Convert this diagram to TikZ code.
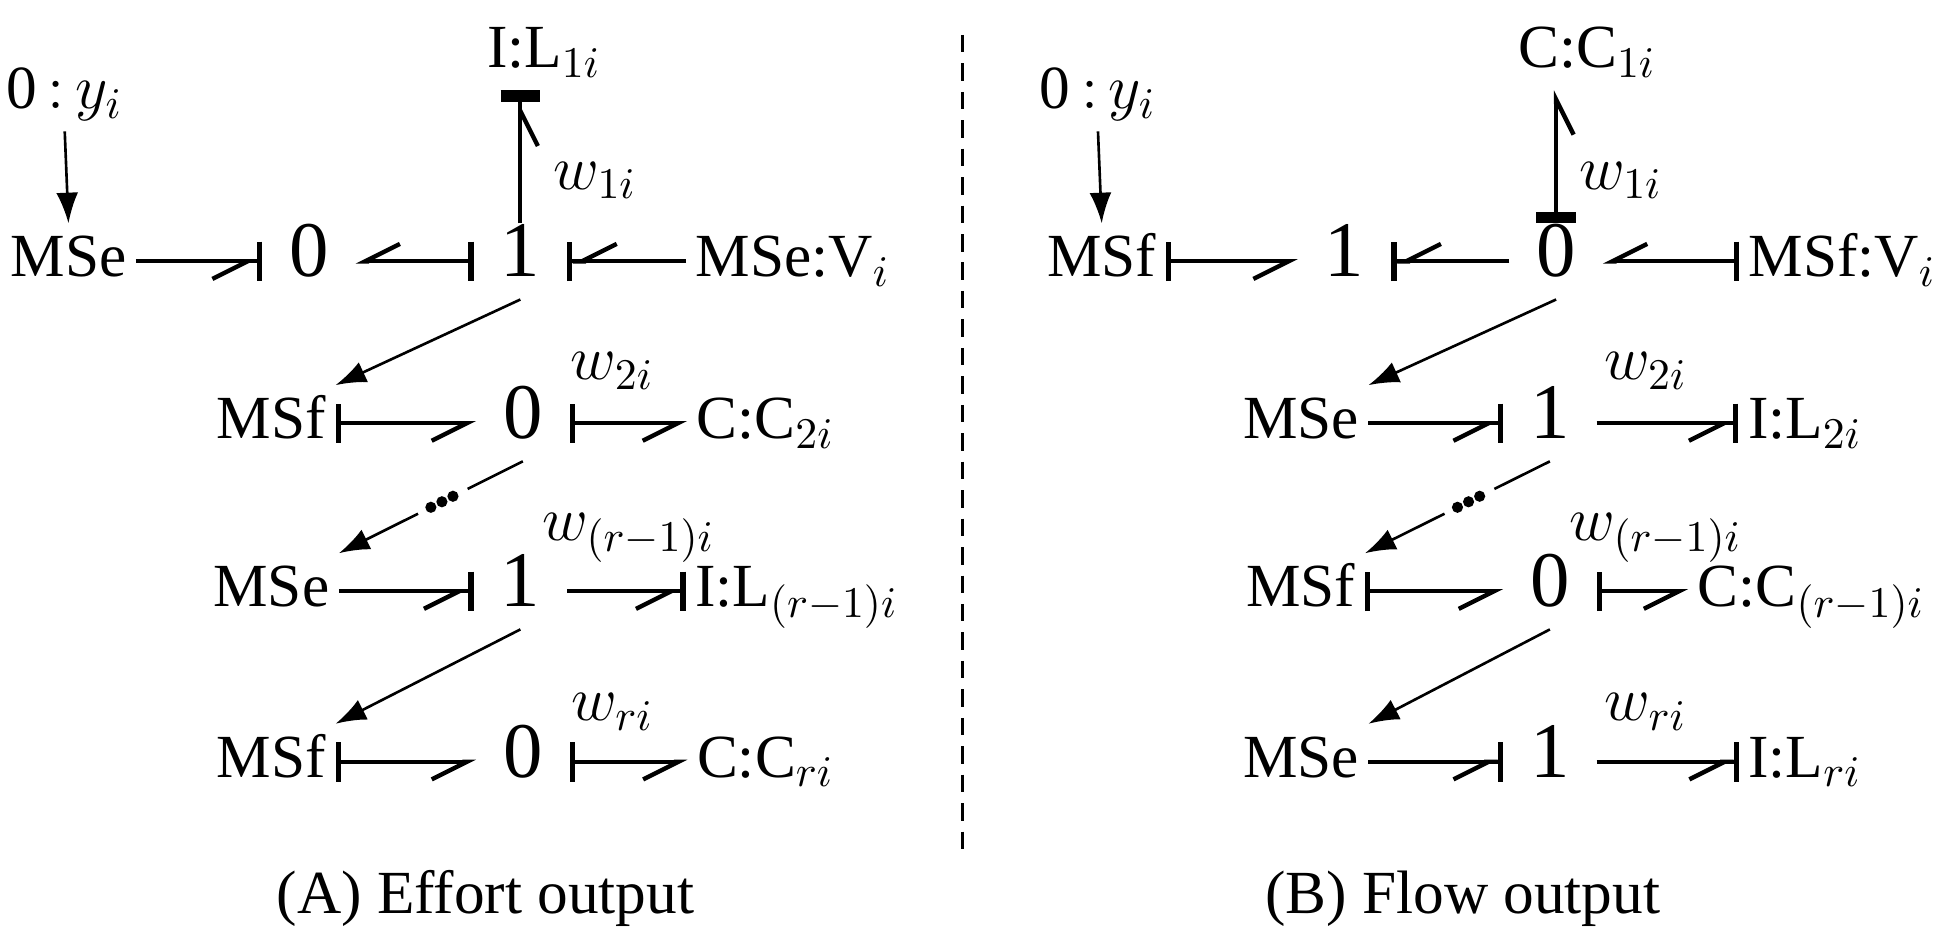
\documentclass[tikz,border=0pt]{standalone}
\usepackage{fontspec}
\setmainfont{Liberation Serif}
\usetikzlibrary{arrows.meta,calc}
\tikzset{
  hp/.tip={Straight Barb[right,length=8pt,width=8pt,line width=1pt]},
  cs/.tip={Bar[width=9pt,line width=1.2pt]},
  cst/.tip={Bar[width=9pt,line width=2.6pt]},
  el/.style={inner xsep=2pt,inner ysep=2pt,text height=10pt,text depth=3pt},
  jn/.style={inner xsep=6pt,inner ysep=2pt,text height=10pt,text depth=3pt,
    font=\fontsize{18}{20}\selectfont},
  bond/.style={line width=0.9pt},
  act/.style={line width=0.6pt,-{Latex[length=7pt,width=5pt]}},
}
\begin{document}
\begin{tikzpicture}[x=0.01cm,y=-0.01cm,font=\fontsize{14}{17}\selectfont]
\useasboundingbox (0,0) rectangle (1568,758);
% (A) effort output
\node[el] (ly) at (52,75) {0$\,{:}\,y_i$};
\node[el] (IL1) at (437,42) {I:L$_{1i}$};
\node[el] (MSe1) at (55,210) {MSe};
\node[jn] (Z1) at (248,210) {0};
\node[jn] (O1) at (418,210) {1};
\node[el] (MSeV) at (637,210) {MSe:V$_i$};
\node (w1) at (478,145) {$w_{1i}$};
\node[el] (MSf2) at (218,340) {MSf};
\node[jn] (Z2) at (420,340) {0};
\node[el] (CC2) at (615,340) {C:C$_{2i}$};
\node (w2) at (492,298) {$w_{2i}$};
\node[el] (MSe3) at (218,475) {MSe};
\node[jn] (O3) at (418,475) {1};
\node[el] (IL3) at (640,475) {I:L$_{(r-1)i}$};
\node (w3) at (505,432) {$w_{(r-1)i}$};
\node[el] (MSf4) at (218,612) {MSf};
\node[jn] (Z4) at (420,612) {0};
\node[el] (CC4) at (615,612) {C:C$_{ri}$};
\node (w4) at (492,572) {$w_{ri}$};
\draw[act] (ly.south) -- (MSe1.north);
\draw[bond,-{hp[]cs[]}] (MSe1) -- (Z1);
\draw[bond,{cs[]}-{hp[]}] (O1) -- (Z1);
\draw[bond,-{hp[]cs[]}] (MSeV) -- (O1);
\draw[bond,-{hp[]cst[]}] (O1.north) -- (O1.north |- IL1.south);
\draw[act] (O1.south) -- (MSf2.north east);
\draw[bond,{cs[]}-{hp[]}] (MSf2) -- (Z2);
\draw[bond,{cs[]}-{hp[]}] (Z2) -- (CC2);
\draw[act,-] (Z2.south) -- ($(Z2.south)!0.3!(MSe3.north east)$);
\foreach \t in {0.38,0.44,0.5}
  \fill ($(Z2.south)!\t!(MSe3.north east)$) circle (4.5);
\draw[act] ($(Z2.south)!0.57!(MSe3.north east)$) -- (MSe3.north east);
\draw[bond,-{hp[]cs[]}] (MSe3) -- (O3);
\draw[bond,-{hp[]cs[]}] (O3) -- (IL3);
\draw[act] (O3.south) -- (MSf4.north east);
\draw[bond,{cs[]}-{hp[]}] (MSf4) -- (Z4);
\draw[bond,{cs[]}-{hp[]}] (Z4) -- (CC4);
% divider
\draw[line width=0.6pt,dash pattern=on 4pt off 2.5pt] (773,28) -- (773,690);
% (B) flow output
\node[el] (ry) at (882,75) {0$\,{:}\,y_i$};
\node[el] (CC1) at (1275,42) {C:C$_{1i}$};
\node[el] (MSf1) at (885,210) {MSf};
\node[jn] (O1r) at (1080,210) {1};
\node[jn] (Z1r) at (1250,210) {0};
\node[el] (MSfV) at (1480,210) {MSf:V$_i$};
\node (w1r) at (1302,145) {$w_{1i}$};
\node[el] (MSe2r) at (1045,340) {MSe};
\node[jn] (O2r) at (1245,340) {1};
\node[el] (IL2r) at (1450,340) {I:L$_{2i}$};
\node (w2r) at (1322,298) {$w_{2i}$};
\node[el] (MSf3r) at (1045,475) {MSf};
\node[jn] (Z3r) at (1245,475) {0};
\node[el] (CC3r) at (1455,475) {C:C$_{(r-1)i}$};
\node (w3r) at (1330,432) {$w_{(r-1)i}$};
\node[el] (MSe4r) at (1045,612) {MSe};
\node[jn] (O4r) at (1245,612) {1};
\node[el] (IL4r) at (1450,612) {I:L$_{ri}$};
\node (w4r) at (1322,572) {$w_{ri}$};
\draw[act] (ry.south) -- (MSf1.north);
\draw[bond,{cs[]}-{hp[]}] (MSf1) -- (O1r);
\draw[bond,-{hp[]cs[]}] (Z1r) -- (O1r);
\draw[bond,{cs[]}-{hp[]}] (MSfV) -- (Z1r);
\draw[bond,{cst[]}-{hp[]}] (Z1r.north) -- (Z1r.north |- CC1.south);
\draw[act] (Z1r.south) -- (MSe2r.north east);
\draw[bond,-{hp[]cs[]}] (MSe2r) -- (O2r);
\draw[bond,-{hp[]cs[]}] (O2r) -- (IL2r);
\draw[act,-] (O2r.south) -- ($(O2r.south)!0.3!(MSf3r.north east)$);
\foreach \t in {0.38,0.44,0.5}
  \fill ($(O2r.south)!\t!(MSf3r.north east)$) circle (4.5);
\draw[act] ($(O2r.south)!0.57!(MSf3r.north east)$) -- (MSf3r.north east);
\draw[bond,{cs[]}-{hp[]}] (MSf3r) -- (Z3r);
\draw[bond,{cs[]}-{hp[]}] (Z3r) -- (CC3r);
\draw[act] (Z3r.south) -- (MSe4r.north east);
\draw[bond,-{hp[]cs[]}] (MSe4r) -- (O4r);
\draw[bond,-{hp[]cs[]}] (O4r) -- (IL4r);
% captions
\node (capA) at (390,722) {(A) Effort output};
\node (capB) at (1175,722) {(B) Flow output};
\end{tikzpicture}
\end{document}
